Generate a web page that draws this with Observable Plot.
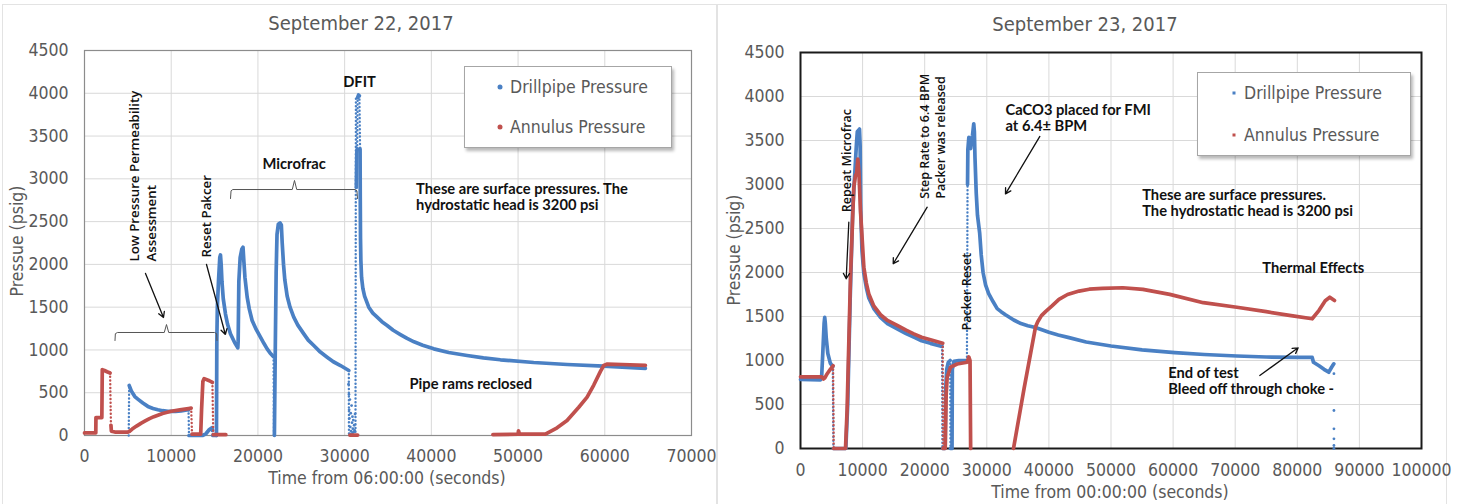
<!DOCTYPE html>
<html><head><meta charset="utf-8">
<script src="https://cdn.jsdelivr.net/npm/d3@7"></script>
<script src="https://cdn.jsdelivr.net/npm/@observablehq/plot@0.6"></script>
<style>
html,body{margin:0;padding:0;background:#fff}
body{width:1460px;height:504px;position:relative;overflow:hidden;font-family:"Liberation Sans Narrow","DejaVu Sans Condensed",sans-serif;color:#595959}
.abs{position:absolute;white-space:nowrap}
.panel{position:absolute;border:1px solid #e3e3e3;box-sizing:border-box}
.title{font-size:20px;transform:translate(-50%,-50%)}
.axt{font-size:17.5px;transform:translate(-50%,-50%)}
.ayt{font-size:17.5px;transform:translate(-50%,-50%) rotate(-90deg)}
.legend{position:absolute;border:1px solid #a6a6a6;background:#fff;box-shadow:2px 3px 3px rgba(0,0,0,0.28);box-sizing:border-box}
.li{position:absolute;font-size:17.5px;transform:translateY(-50%)}
.mk{position:absolute;transform:translate(-50%,-50%)}
</style>
</head><body>
<script>
// ---------- shared ticks ----------
const yTicks = [0,500,1000,1500,2000,2500,3000,3500,4000,4500];
const sep22XTicks = [0,10000,20000,30000,40000,50000,60000,70000];
const sep23XTicks = [0,10000,20000,30000,40000,50000,60000,70000,80000,90000,100000];
const seriesNames = ["Drillpipe Pressure","Annulus Pressure"];

// ---------- September 22 (time from 06:00:00, s ; pressure psig) ----------
const sep22Drillpipe = [
  [[5150,585],[5400,520],[5800,455],[6150,425],[6730,379],[7310,340],[7900,316],[8460,301],[9000,290],[9620,283],[10500,282],[11150,288],[11800,298],[12000,300]],
  [[12050,0],[13600,0],[14000,20],[14400,70],[14700,90],[14750,60]],
  [[14800,0],[15200,0]],
  [[15220,0],[15260,1100],[15320,1500],[15450,1800],[15600,2080],[15680,2110],[15760,2000],[15850,1800],[16000,1600],[16260,1420],[16500,1300],[16830,1190],[17300,1090],[17680,1025],[17720,1100],[17800,1800],[17950,2080],[18150,2180],[18280,2200],[18370,2050],[18500,1850],[18760,1617],[19000,1480],[19330,1344],[19800,1240],[20290,1150],[20700,1075],[21060,1013],[21400,965],[21800,920]],
  [[21900,0],[22000,1000],[22100,1900],[22200,2350],[22350,2470],[22550,2485],[22700,2460],[22800,2250],[22950,2000],[23100,1820],[23370,1630],[23700,1500],[24130,1383],[24600,1290],[25290,1188],[25800,1115],[26440,1052],[27200,975],[27980,915],[28700,862],[29520,818],[30480,760]],
  [[31350,2900],[31400,3300],[31450,3350]],
  [[31500,3950],[31600,3980],[31700,3970]],
  [[31780,3350],[31800,2800],[31830,2300],[31870,2050],[31950,1850],[32100,1720],[32300,1630],[32780,1500],[33250,1430],[33750,1383],[34300,1330],[34900,1286],[35600,1230],[36430,1180],[37200,1135],[38000,1095],[39000,1055],[40280,1013],[42000,970],[44120,935],[46000,908],[47960,885],[51800,853],[55660,830],[59880,810],[62000,800],[64680,785]]
];
const sep22DrillpipeJumps = [[5100,0,5150,585],[12000,300,12050,0],[14750,60,14800,0],[21800,920,21850,0],[30480,760,30500,0],[31250,0,31300,3950],[31450,3350,31500,3950],[31700,3970,31780,3350]];
const sep22DrillpipeScatter = [[30450,600],[30500,480],[30520,300],[30550,200],[30600,420],[30650,100],[30700,260],[30750,50],[30800,350],[30850,150],[30900,220],[30950,80],[31000,180],[31050,40],[31100,120],[30600,20],[30700,10],[30900,30],[31150,60],[31200,250]];
const sep22Annulus = [
  [[0,30],[1300,30],[1320,210],[2000,210],[2050,770],[2300,760],[2600,745],[2950,730]],
  [[3050,120],[3100,50],[3500,40],[5000,40],[5200,50],[5500,75],[6000,110],[6500,142],[7000,170],[7500,197],[8000,220],[9000,258],[10000,283],[11000,300],[12000,315],[12300,320]],
  [[12400,15],[13400,15],[13500,300],[13650,630],[13800,665],[14400,640],[14750,620]],
  [[14850,10],[16300,10]],
  [[30600,5],[31500,5]],
  [[47100,10],[50000,15],[50050,55],[50150,20],[53150,15],[54500,90],[55650,175],[57000,330],[57960,448],[58730,590],[59500,750],[59880,818],[60300,835],[62000,830],[64680,820]]
];
const sep22AnnulusJumps = [[2950,730,3050,120],[12300,320,12400,15],[14750,620,14850,10]];
const sep22Notes = [
  {t:31710,p:4130,text:"DFIT"},
  {t:24180,p:3176,text:"Microfrac"},
  {t:38240,p:2791,text:"These are surface pressures. The\nhydrostatic head is 3200 psi",left:true},
  {t:37480,p:604,text:"Pipe rams reclosed",left:true}
];
const sep22Vertical = [
  {t:6631,p:2034,text:"Low Pressure Permeability\nAssessment"},
  {t:13953,p:2080,text:"Reset Pakcer"}
];
const sep22Arrows = [[7035,1894,9110,1379],[14070,1999,16245,1181]];
const sep22Braces = [
  [[3517,1110],[3560,1190],[3800,1204],[9200,1204],[9456,1297],[9712,1204],[15000,1204],[15240,1190],[15282,1110]],
  [[16837,2770],[16900,2860],[17100,2875],[23960,2875],[24217,2981],[24474,2875],[31200,2875],[31420,2860],[31483,2770]]
];

// ---------- September 23 (time from 00:00:00, s ; pressure psig) ----------
const sep23Drillpipe = [
  [[0,785],[3200,780],[3400,810],[3600,1100],[3800,1420],[3900,1490],[4000,1420],[4150,1250],[4400,1080],[4800,970],[5200,930]],
  [[5300,0],[7300,0],[7600,500],[8000,1700],[8400,2700],[8800,3200],[9000,3450],[9150,3600],[9500,3630],[9600,3450],[9700,2700],[9900,2250],[10200,1990],[10600,1830],[11000,1710],[11800,1590],[12880,1490],[14000,1420],[15570,1360],[17000,1305],[18240,1265],[19500,1225],[20930,1195],[22800,1160]],
  [[22900,0],[23300,0],[23400,700],[23550,900],[23800,980],[24100,1000]],
  [[24150,0],[24400,0],[24450,900],[24700,990],[25500,1000],[26800,1000]],
  [[26900,3000],[26950,3400],[27110,3536],[27250,3420],[27400,3410],[27550,3500],[27700,3560],[27900,3690],[28000,3600],[28100,3300],[28300,2900],[28500,2650],[28850,2450],[29100,2200],[29400,2000],[29800,1860],[30300,1760],[31000,1670],[31670,1590],[32300,1555],[33000,1520],[34340,1460],[35500,1420],[36600,1395],[37840,1375],[40000,1320],[41500,1290],[43240,1260],[46000,1210],[50000,1165],[55000,1120],[60270,1089],[65000,1068],[70270,1051],[75000,1040],[80270,1035],[82400,1035],[82600,980],[83500,940],[84300,900],[85070,867],[85500,920],[85880,962]]
];
const sep23DrillpipeJumps = [[5200,930,5300,0],[22800,1160,22850,0],[24100,1000,24150,0],[26800,1000,26900,3000]];
const sep23DrillpipeScatter = [[85900,850],[85900,432],[85900,224],[85900,110],[85900,34],[85900,0]];
const sep23Annulus = [
  [[0,815],[3400,815],[3700,790],[3900,800],[4300,850],[4800,900],[5250,940]],
  [[5350,0],[7250,0],[7500,430],[8050,1950],[8580,2970],[8850,3100],[9050,3130],[9230,3290],[9400,3150],[9660,2700],[10200,2060],[10600,1880],[11000,1757],[11800,1620],[12880,1520],[14000,1455],[15570,1400],[17000,1345],[18240,1303],[19500,1265],[20930,1235],[22900,1196]],
  [[22950,0],[23300,0],[23450,600],[23620,810],[24150,924],[25230,960],[26840,980],[27100,1040],[27300,1000],[27400,0]],
  [[34300,0],[36000,680],[37840,1380],[38200,1440],[38800,1510],[39460,1555],[40500,1620],[41620,1694],[43000,1750],[44860,1789],[46500,1810],[48650,1819],[51890,1827],[55140,1808],[59460,1751],[64860,1657],[70270,1605],[75000,1555],[79000,1510],[82400,1474],[83500,1570],[84500,1680],[85230,1719],[85990,1682]]
];
const sep23AnnulusJumps = [[5250,940,5350,0],[22900,1196,22950,0]];
const sep23Notes = [
  {t:33010,p:3761,text:"CaCO3 placed for FMI\nat 6.4± BPM",left:true},
  {t:55020,p:2795,text:"These are surface pressures.\nThe hydrostatic head is 3200 psi",left:true},
  {t:74350,p:2053,text:"Thermal Effects",left:true},
  {t:59210,p:769,text:"End of test\nBleed off through choke -",left:true}
];
const sep23Vertical = [
  {t:7327,p:2685,text:"Repeat Microfrac"},
  {t:21140,p:2838,text:"Step Rate to 6.4 BPM\nPacker was released"},
  {t:26650,p:1341,text:"Packer Reset"}
];
const sep23Arrows = [[7780,2572,7360,1929],[20400,2742,14930,2099],[38540,3546,33010,2894],[73960,830,80140,1144]];

// ---------- drawing ----------
const BLUE = "#4a80c4", RED = "#c0504d";
const FONT = '"Liberation Sans Narrow","DejaVu Sans Condensed",sans-serif';
function rows(segs){const r=[];segs.forEach((s,i)=>s.forEach(([t,p])=>r.push({t,p,seg:i})));return r;}
function links(j){return j.map(([t1,p1,t2,p2])=>({t1,p1,t2,p2}));}

function chart(c){
  const lineOpts = (col)=>({x:"t",y:"p",z:"seg",stroke:col,strokeWidth:3.7,strokeLinejoin:"round",strokeLinecap:"round"});
  const jumpOpts = (col)=>({x1:"t1",y1:"p1",x2:"t2",y2:"p2",stroke:col,strokeWidth:2.4,strokeDasharray:"0.1 3.6",strokeLinecap:"round"});
  const noteFont = {fontFamily:"Lato, sans-serif",fontWeight:"bold",fontSize:14.7,fill:"#111",lineHeight:1.1};
  const marks = [
    Plot.gridX(c.xTicks,{stroke:"#d9d9d9",strokeOpacity:1}),
    Plot.gridY(yTicks,{stroke:"#d9d9d9",strokeOpacity:1}),
    Plot.axisX(c.xTicks,{tickSize:0,tickPadding:c.xpad,tickFormat:"d",label:null}),
    Plot.axisY(yTicks,{tickSize:0,tickPadding:16,tickFormat:"d",label:null}),
    Plot.frame({stroke:c.frameColor,strokeWidth:c.frameWidth}),
    Plot.link(links(c.dpJ),jumpOpts(BLUE)),
    Plot.dot(c.dpS,{x:d=>d[0],y:d=>d[1],r:1.4,fill:BLUE}),
    Plot.line(rows(c.dp),lineOpts(BLUE)),
    Plot.link(links(c.anJ),jumpOpts(RED)),
    Plot.line(rows(c.an),lineOpts(RED)),
    Plot.arrow(links(c.arrows),{x1:"t1",y1:"p1",x2:"t2",y2:"p2",stroke:"#111",strokeWidth:1.3,headLength:7}),
    Plot.text(c.notes.filter(d=>!d.left),{x:"t",y:"p",text:"text",...noteFont}),
    Plot.text(c.notes.filter(d=>d.left),{x:"t",y:"p",text:"text",textAnchor:"start",...noteFont}),
    Plot.text(c.vertical,{x:"t",y:"p",text:"text",rotate:-90,textAnchor:"start",fontFamily:"Open Sans, sans-serif",fontWeight:600,fontSize:c.vsize,fill:"#111",lineHeight:1.25})
  ];
  if (c.braces) marks.push(Plot.line(rows(c.braces),{x:"t",y:"p",z:"seg",stroke:"#555",strokeWidth:1}));
  return Plot.plot({
    width:c.width,height:504,marginLeft:84,marginRight:c.mr,marginTop:c.mt,marginBottom:c.mb,
    x:{domain:[0,c.xmax]},y:{domain:[0,4500]},
    style:{fontFamily:FONT,fontSize:"17.5px",color:"#595959",background:"transparent",overflow:"visible"},
    marks
  });
}

function add(el,x,y,w,h){el.style.position="absolute";el.style.left=x+"px";el.style.top=y+"px";if(w)el.style.width=w+"px";if(h)el.style.height=h+"px";document.body.appendChild(el);return el;}
function div(cls,html,x,y){const d=document.createElement("div");d.className="abs "+cls;d.innerHTML=html;return add(d,x,y);}

// panels
const p1=document.createElement("div");p1.className="panel";add(p1,2,4,715,510);
const p2=document.createElement("div");p2.className="panel";add(p2,717,4,730,510);

add(chart({width:716,mr:25,mt:50,mb:69,xmax:70000,xTicks:sep22XTicks,xpad:14,frameColor:"#8c8c8c",frameWidth:1.2,vsize:13.3,
  dp:sep22Drillpipe,dpJ:sep22DrillpipeJumps,dpS:sep22DrillpipeScatter,an:sep22Annulus,anJ:sep22AnnulusJumps,
  notes:sep22Notes,vertical:sep22Vertical,arrows:sep22Arrows,braces:sep22Braces}),0,0);
add(chart({width:744,mr:39,mt:52,mb:56,xmax:100000,xTicks:sep23XTicks,xpad:15,frameColor:"#1a1a1a",frameWidth:2,vsize:12.5,
  dp:sep23Drillpipe,dpJ:sep23DrillpipeJumps,dpS:sep23DrillpipeScatter,an:sep23Annulus,anJ:sep23AnnulusJumps,
  notes:sep23Notes,vertical:sep23Vertical,arrows:sep23Arrows}),716,0);

// titles and axis titles
div("title","September 22, 2017",361,23);
div("title","September 23, 2017",1085,24);
div("axt","Time from 06:00:00 (seconds)",387,478);
div("axt","Time from 00:00:00 (seconds)",1110,492);
div("ayt","Pressue (psig)",17,241);
div("ayt","Pressue (psig)",734,250);

// legends
function legend(x,y,w,h,mx,tx,ys,shape){
  const b=document.createElement("div");b.className="legend";add(b,x,y,w,h);
  const cols=[BLUE,RED];
  seriesNames.forEach((n,i)=>{
    const m=document.createElement("div");m.className="mk";
    m.style.background=cols[i];
    if(shape==="dot"){m.style.width="5px";m.style.height="5px";m.style.borderRadius="50%";}
    else{m.style.width="3px";m.style.height="3px";}
    add(m,mx,ys[i]);
    div("li",n,tx,ys[i]);
  });
}
legend(464,66,208,82,500,510,[87,127],"dot");
legend(1197,72,214,84,1234,1244,[93,135],"sq");
</script>
</body></html>
